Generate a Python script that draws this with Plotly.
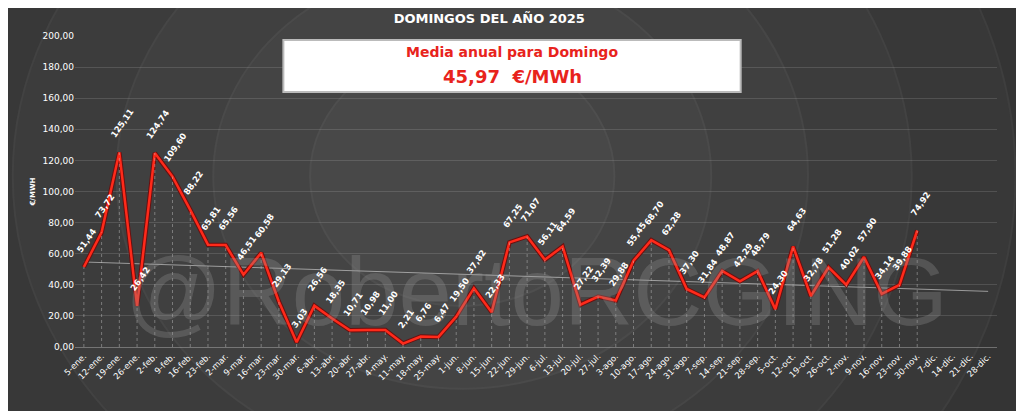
import numpy as np
import plotly.graph_objects as go

fechas = ['5-ene.', '12-ene.', '19-ene.', '26-ene.', '2-feb.', '9-feb.', '16-feb.', '23-feb.',
          '2-mar.', '9-mar.', '16-mar.', '23-mar.', '30-mar.', '6-abr.', '13-abr.', '20-abr.',
          '27-abr.', '4-may.', '11-may.', '18-may.', '25-may.', '1-jun.', '8-jun.', '15-jun.',
          '22-jun.', '29-jun.', '6-jul.', '13-jul.', '20-jul.', '27-jul.', '3-ago.', '10-ago.',
          '17-ago.', '24-ago.', '31-ago.', '7-sep.', '14-sep.', '21-sep.', '28-sep.', '5-oct.',
          '12-oct.', '19-oct.', '26-oct.', '2-nov.', '9-nov.', '16-nov.', '23-nov.', '30-nov.',
          '7-dic.', '14-dic.', '21-dic.', '28-dic.']
precios = [51.44, 73.72, 125.11, 26.42, 124.74, 109.60, 88.22, 65.81,
           65.56, 46.51, 60.58, 29.13, 3.03, 26.56, 18.35, 10.71,
           10.98, 11.00, 2.21, 6.76, 6.47, 19.50, 37.82, 22.33,
           67.25, 71.07, 56.11, 64.59, 27.22, 32.39, 29.88, 55.45,
           68.70, 62.28, 37.30, 31.84, 48.87, 42.29, 48.79, 24.30,
           64.63, 32.78, 51.28, 40.02, 57.90, 34.14, 39.88, 74.92]
media_anual = 45.97

n = len(precios)
x_data = fechas[:n]

# tendencia lineal
idx = np.arange(n)
a, b = np.polyfit(idx, precios, 1)
tend = a * np.arange(len(fechas)) + b

fig = go.Figure()

# fondo: anillos concentricos
for i, r in enumerate([0.95, 0.8, 0.65, 0.5, 0.36, 0.22]):
    g = 52 + i * 4
    fig.add_shape(type='circle', xref='paper', yref='paper', layer='below',
                  x0=0.42 - r * 0.75, x1=0.42 + r * 0.75, y0=0.55 - r * 1.9, y1=0.55 + r * 1.9,
                  fillcolor=f'rgb({g},{g},{g})', line=dict(color=f'rgb({g+6},{g+6},{g+6})', width=2))

# marca de agua
fig.add_annotation(x=0.5, y=0.0, xref='paper', yref='paper', text='@RobertoRCGING', showarrow=False,
                   yanchor='bottom', font=dict(size=96, color='rgba(150,150,150,0.3)', family='Liberation Sans'))

# lineas verticales discontinuas
for f, v in zip(x_data, precios):
    fig.add_shape(type='line', x0=f, x1=f, y0=0, y1=v, xref='x', yref='y',
                  line=dict(color='rgba(200,200,200,0.45)', width=1, dash='dot'))

fig.add_trace(go.Scatter(x=fechas, y=tend, mode='lines',
                         line=dict(color='rgba(220,220,220,0.6)', width=1), hoverinfo='skip'))
fig.add_trace(go.Scatter(x=x_data, y=precios, mode='lines',
                         line=dict(color='#6a1010', width=4.5), hoverinfo='skip'))
fig.add_trace(go.Scatter(x=x_data, y=precios, mode='lines',
                         line=dict(color='#ff2a1a', width=2.5)))

for f, v in zip(x_data, precios):
    fig.add_annotation(x=f, y=v, text='<b>' + f'{v:.2f}'.replace('.', ',') + '</b>', showarrow=False,
                       textangle=-55, xanchor='center', yanchor='bottom', yshift=10, xshift=3,
                       font=dict(color='white', size=8.5, family='DejaVu Sans'))

# recuadro de media
fig.add_shape(type='rect', xref='paper', yref='paper', x0=0.226, x1=0.722, y0=0.82, y1=0.987,
              fillcolor='white', line=dict(color='#bbbbbb', width=2))
fig.add_annotation(x=0.474, y=0.98, xref='paper', yref='paper', showarrow=False,
                   text='<b>Media anual para Domingo</b>', font=dict(color='#e8231c', size=14))
fig.add_annotation(x=0.474, y=0.91, xref='paper', yref='paper', showarrow=False,
                   text=f'<b>{media_anual:.2f}'.replace('.', ',') + '  €/MWh</b>',
                   font=dict(color='#e8231c', size=18))

fig.update_layout(
    width=1024, height=411, showlegend=False,
    paper_bgcolor='#2a2a2a', plot_bgcolor='rgba(0,0,0,0)',
    margin=dict(l=67, r=35, t=28, b=72),
    separators=',.',
    font=dict(family='DejaVu Sans', color='white'),
    title=dict(text='<b>DOMINGOS DEL AÑO 2025</b>', x=0.47, y=0.985, xanchor='center',
               font=dict(size=13, color='white')),
)
fig.update_xaxes(type='category', categoryarray=fechas, tickangle=-45, showgrid=False,
                 tickfont=dict(size=8.5, color='white'), range=[-0.5, len(fechas) - 0.5],
                 showline=True, linecolor='rgba(200,200,200,0.4)', automargin=False)
fig.update_yaxes(range=[0, 200], dtick=20, tickformat='.2f', gridcolor='rgba(200,200,200,0.18)',
                 tickfont=dict(size=9, color='white'), zeroline=False, automargin=False,
                 title=dict(text='<b>€/MWH</b>', font=dict(size=7, color='white'), standoff=6))

fig.write_html('out.html')
